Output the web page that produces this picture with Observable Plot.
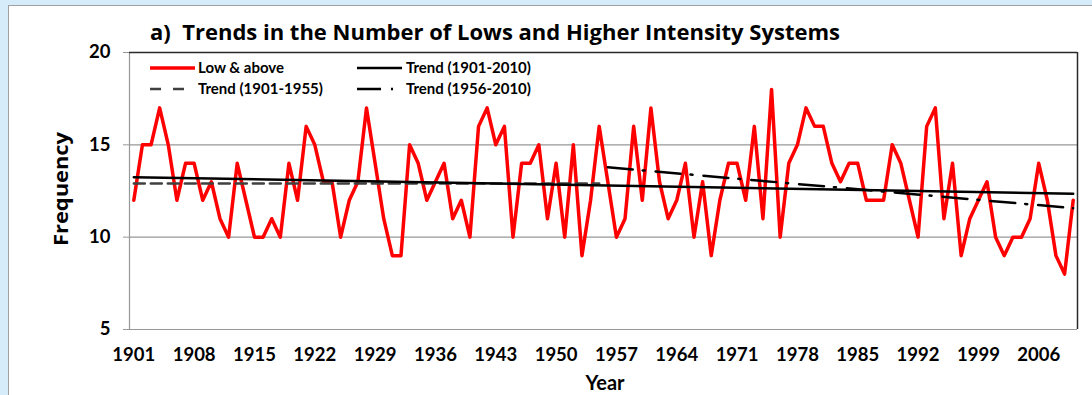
<!DOCTYPE html>
<html>
<head>
<meta charset="utf-8">
<script src="https://cdn.jsdelivr.net/npm/d3@7"></script>
<script src="https://cdn.jsdelivr.net/npm/@observablehq/plot@0.6"></script>
<style>
  html, body { margin: 0; padding: 0; background: #d6ecfa; }
  #chart { width: 1092px; height: 395px; }
</style>
</head>
<body>
<div id="chart"></div>
<script>
// ---- data ----
const startYear = 1901;
const lows = [
  12,15,15,17,15,12,14,14,12,13,
  11,10,14,12,10,10,11,10,14,12,
  16,15,13,13,10,12,13,17,14,11,
  9,9,15,14,12,13,14,11,12,10,
  16,17,15,16,10,14,14,15,11,14,
  10,15,9,12,16,13,10,11,16,12,
  17,13,11,12,14,10,13,9,12,14,
  14,12,16,11,18,10,14,15,17,16,
  16,14,13,14,14,12,12,12,15,14,
  12,10,16,17,11,14,9,11,12,13,
  10,9,10,10,11,14,12,9,8,12
];
const xTickYears = [1901,1908,1915,1922,1929,1936,1943,1950,1957,1964,1971,1978,1985,1992,1999,2006];
const yTickValues = [5,10,15,20];
const trendAll = [{year:1901, value:13.25},{year:2010, value:12.35}];
const trendEarly = [{year:1901, value:12.9},{year:1955, value:12.9}];
const trendLate = [{year:1956, value:13.78},{year:2010, value:11.57}];
const titleText = "a)  Trends in the Number of Lows and Higher Intensity Systems";
const legendLabels = ["Low & above", "Trend (1901-1955)", "Trend (1901-2010)", "Trend (1956-2010)"];

const series = lows.map((v, i) => ({year: startYear + i, value: v}));

const W = 1092, H = 395;
const FONT = "Lato, 'Open Sans', sans-serif";
const WIDE = "'Open Sans', Lato, sans-serif";

const chart = Plot.plot({
  width: W, height: H,
  marginLeft: 129, marginRight: 15, marginTop: 52, marginBottom: 66,
  style: {background: "transparent", fontFamily: FONT, fontWeight: "bold", fontSize: "18.5px", color: "#000", overflow: "visible"},
  x: {domain: [startYear - 0.5, startYear + lows.length - 0.5], label: null},
  y: {domain: [5, 20], label: null},
  marks: [
    Plot.gridY([10, 15], {stroke: "#979797", strokeOpacity: 1, strokeWidth: 1.2}),
    Plot.ruleY([5], {stroke: "#979797", strokeWidth: 1.2}),
    Plot.ruleX([startYear - 0.5], {stroke: "#979797", strokeWidth: 1.2}),
    Plot.ruleY([20], {stroke: "#2a2a2a", strokeWidth: 1.5}),
    Plot.ruleX([startYear + lows.length - 0.5], {stroke: "#2a2a2a", strokeWidth: 1.5}),
    Plot.axisY({ticks: yTickValues, tickSize: 6, tickPadding: 13, stroke: "#979797", fontSize: 18.5, fontWeight: "bold"}),
    Plot.axisX({ticks: xTickYears, tickSize: 0, tickPadding: 18, tickFormat: d => String(d), fontSize: 18.5, fontWeight: "bold"}),
    Plot.line(series, {x: "year", y: "value", stroke: "#ff0000", strokeWidth: 3.5, strokeLinejoin: "round"}),
    Plot.line(trendEarly, {x: "year", y: "value", stroke: "#404040", strokeWidth: 2.5, strokeDasharray: "11,6"}),
    Plot.line(trendAll, {x: "year", y: "value", stroke: "#000", strokeWidth: 2.5}),
    Plot.line(trendLate, {x: "year", y: "value", stroke: "#000", strokeWidth: 2.5, strokeDasharray: "25,10,2,11"})
  ]
});

const svg = d3.select(chart);
// background panel
svg.insert("rect", ":first-child").attr("x", 8.5).attr("y", 5.5).attr("width", W).attr("height", H)
  .attr("fill", "#fff").attr("stroke", "#a0a0a0").attr("stroke-width", 1);
svg.insert("rect", ":first-child").attr("x", 0).attr("y", 0).attr("width", W).attr("height", H).attr("fill", "#d6ecfa");

// title
svg.append("text").attr("x", 150).attr("y", 40).attr("text-anchor", "start").attr("font-family", WIDE).attr("font-weight", "bold")
  .attr("font-size", 20.5).attr("fill", "#000").attr("xml:space", "preserve").style("white-space", "pre")
  .attr("textLength", 690).attr("lengthAdjust", "spacingAndGlyphs").text(titleText);
// axis titles
svg.append("text").attr("transform", "translate(68,189) rotate(-90)").attr("text-anchor", "middle")
  .attr("font-family", WIDE).attr("font-weight", "bold").attr("font-size", 19).attr("fill", "#000")
  .attr("textLength", 114).attr("lengthAdjust", "spacingAndGlyphs").text("Frequency");
svg.append("text").attr("x", 605).attr("y", 390).attr("text-anchor", "middle")
  .attr("font-family", FONT).attr("font-weight", "bold").attr("font-size", 20).attr("fill", "#000").text("Year");

// legend
const lg = svg.append("g").attr("font-family", FONT).attr("font-weight", "bold").attr("font-size", 15)
  .attr("fill", "#000").attr("text-anchor", "start");
const items = [
  {x: 150, y: 68, len: 45, stroke: "#ff0000", dash: null, w: 3.5, label: legendLabels[0], tx: 198},
  {x: 150, y: 89, len: 36, stroke: "#404040", dash: "11,12", w: 2.5, label: legendLabels[1], tx: 198},
  {x: 357, y: 68, len: 45, stroke: "#000", dash: null, w: 2.5, label: legendLabels[2], tx: 406},
  {x: 357, y: 89, len: 37, stroke: "#000", dash: "24,10,2,20", w: 2.5, label: legendLabels[3], tx: 406}
];
for (const it of items) {
  const l = lg.append("line").attr("x1", it.x).attr("x2", it.x + it.len).attr("y1", it.y).attr("y2", it.y)
    .attr("stroke", it.stroke).attr("stroke-width", it.w);
  if (it.dash) l.attr("stroke-dasharray", it.dash);
  lg.append("text").attr("x", it.tx).attr("y", it.y).attr("dy", "0.35em").attr("text-anchor", "start").text(it.label);
}

document.getElementById("chart").appendChild(chart);
</script>
</body>
</html>
